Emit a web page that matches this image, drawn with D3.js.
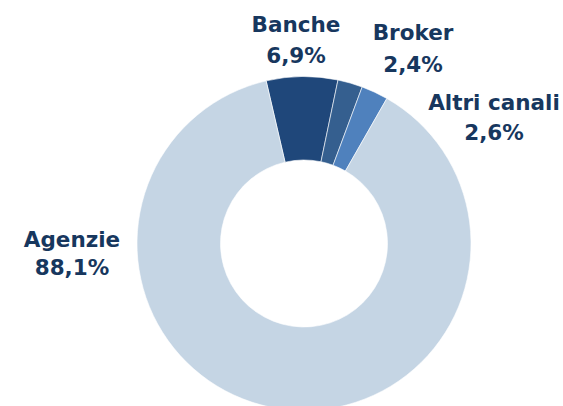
<!DOCTYPE html>
<html><head><meta charset="utf-8">
<script src="https://cdn.jsdelivr.net/npm/d3@7"></script>
<style>html,body{margin:0;padding:0;background:#fff;overflow:hidden}</style>
</head><body>
<svg id="c" width="563" height="406"></svg>
<script>
const categories = ["Banche", "Broker", "Altri canali", "Agenzie"];
const values = [6.9, 2.4, 2.6, 88.1];
const valueLabels = ["6,9%", "2,4%", "2,6%", "88,1%"];
const colors = ["#1F477A", "#355F8F", "#4F81BD", "#C5D5E4"];

const svg = d3.select("#c");
const cx = 304, cy = 243.5, rOuter = 167, rInner = 83.5;
const startDeg = -13.1;
const pie = d3.pie().sort(null).value(d => d)
  .startAngle(startDeg * Math.PI / 180)
  .endAngle((startDeg + 360) * Math.PI / 180);
const arcs = pie(values);
const arc = d3.arc().innerRadius(rInner).outerRadius(rOuter);
const g = svg.append("g").attr("transform", `translate(${cx},${cy})`);
g.selectAll("path").data(arcs).join("path")
  .attr("d", arc)
  .attr("fill", (d, i) => colors[i])
  .attr("stroke", "#fff").attr("stroke-width", 0.6);

// label anchor positions (page coords) – layout only
const labelPos = [[296, 31.5], [413, 40], [494, 110], [72, 246.5]];
const lineGap = [31.5, 31.5, 30, 28.5];
const tg = svg.append("g")
  .attr("font-family", "'DejaVu Sans', sans-serif")
  .attr("font-weight", "bold")
  .attr("font-size", 21.5)
  .attr("fill", "#17375E")
  .attr("text-anchor", "middle");
categories.forEach((c, i) => {
  const t = tg.append("text").attr("x", labelPos[i][0]).attr("y", labelPos[i][1]);
  t.append("tspan").attr("x", labelPos[i][0]).text(c);
  t.append("tspan").attr("x", labelPos[i][0]).attr("dy", lineGap[i]).text(valueLabels[i]);
});
</script>
</body></html>
